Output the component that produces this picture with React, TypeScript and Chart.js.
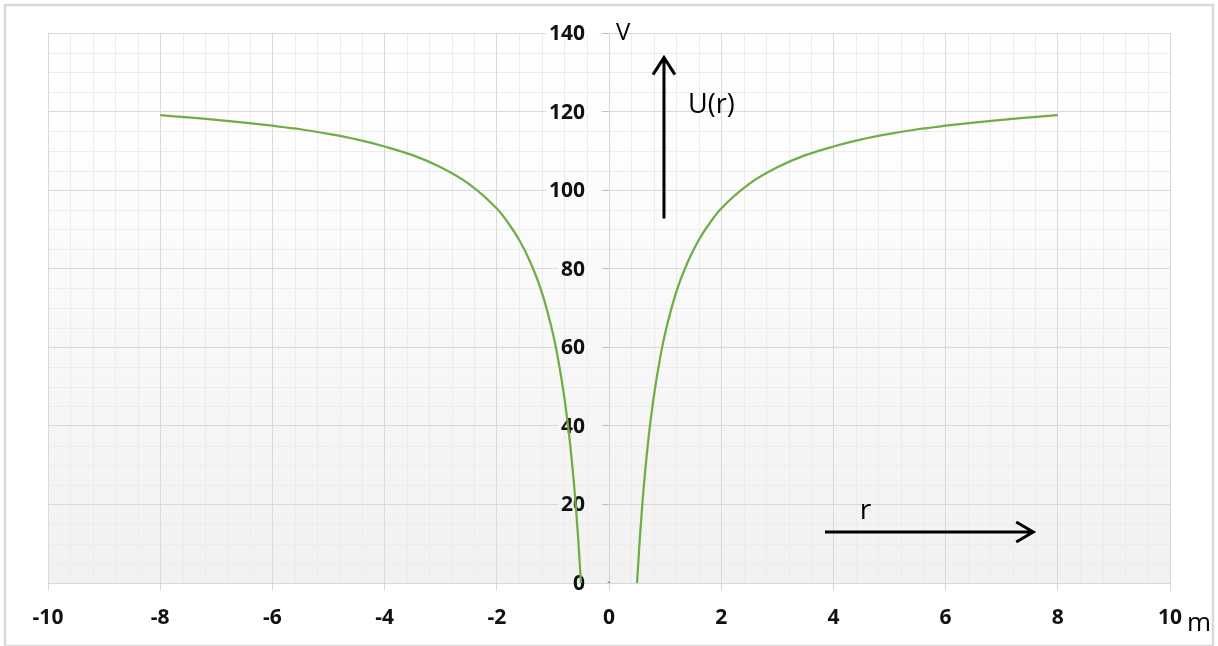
import React, { useEffect, useRef } from "react";
import { Chart, registerables } from "chart.js";

Chart.register(...registerables);

// Potential curve U(r), read in volts at distance r (metres)
const leftR = [-8, -7.5, -7, -6.5, -6, -5.5, -5, -4.5, -4, -3.5, -3, -2.5, -2, -1.8, -1.6, -1.4, -1.2, -1.0, -0.9, -0.8, -0.7, -0.6, -0.55, -0.5];
const leftU = [119.1, 118.5, 117.9, 117.2, 116.4, 115.5, 114.3, 112.9, 111.1, 108.9, 105.8, 101.6, 95.3, 91.7, 87.3, 81.6, 74.1, 63.5, 56.4, 47.6, 36.3, 21.2, 11.5, 0];
const rightR = [0.5, 0.55, 0.6, 0.7, 0.8, 0.9, 1.0, 1.2, 1.4, 1.6, 1.8, 2, 2.5, 3, 3.5, 4, 4.5, 5, 5.5, 6, 6.5, 7, 7.5, 8];
const rightU = [0, 11.5, 21.2, 36.3, 47.6, 56.4, 63.5, 74.1, 81.6, 87.3, 91.7, 95.3, 101.6, 105.8, 108.9, 111.1, 112.9, 114.3, 115.5, 116.4, 117.2, 117.9, 118.5, 119.1];
const originR = [0];
const originU = [0];

// Axis ranges and tick steps
const xRange = [-10, 10];
const yRange = [0, 140];
const xMajorStep = 2;
const xMinorStep = 0.4;
const yMajorStep = 20;
const yMinorStep = 5;

// Annotation texts
const yUnit = "V";
const xUnit = "m";
const curveName = "U(r)";
const distName = "r";

const GREEN = "#70ad47";
const FONT = "'Open Sans', 'Liberation Sans', sans-serif";
const TICK_FONT = `bold 21px ${FONT}`;

const toPoints = (xs: number[], ys: number[]) => xs.map((x, i) => ({ x, y: ys[i] }));

// plot background shade at a fraction t (0 = top, 1 = bottom)
const shadeAt = (t: number) => {
  const v = t < 0.25 ? 255 - (t / 0.25) * 2 : 253 - ((t - 0.25) / 0.75) * 12;
  const c = Math.round(v);
  return `rgb(${c},${c},${c})`;
};

const decorPlugin = {
  id: "decor",
  beforeDraw(chart: any) {
    const { ctx, chartArea: a, scales } = chart;
    const xs = scales.x;
    const ys = scales.y;
    ctx.save();
    // plot background gradient
    const g = ctx.createLinearGradient(0, a.top, 0, a.bottom);
    g.addColorStop(0, shadeAt(0));
    g.addColorStop(0.25, shadeAt(0.25));
    g.addColorStop(1, shadeAt(1));
    ctx.fillStyle = g;
    ctx.fillRect(a.left, a.top, a.right - a.left, a.bottom - a.top);
    // minor grid
    ctx.strokeStyle = "#ececec";
    ctx.lineWidth = 1;
    ctx.beginPath();
    const nx = Math.round((xRange[1] - xRange[0]) / xMinorStep);
    for (let i = 1; i < nx; i++) {
      const v = xRange[0] + i * xMinorStep;
      if (Math.abs(v / xMajorStep - Math.round(v / xMajorStep)) < 1e-6) continue;
      const px = Math.round(xs.getPixelForValue(v)) + 0.5;
      ctx.moveTo(px, a.top);
      ctx.lineTo(px, a.bottom);
    }
    const ny = Math.round((yRange[1] - yRange[0]) / yMinorStep);
    for (let i = 1; i < ny; i++) {
      const v = yRange[0] + i * yMinorStep;
      if (v % yMajorStep === 0) continue;
      const py = Math.round(ys.getPixelForValue(v)) + 0.5;
      ctx.moveTo(a.left, py);
      ctx.lineTo(a.right, py);
    }
    ctx.stroke();
    ctx.restore();
  },
  beforeDatasetsDraw(chart: any) {
    // value labels of the vertical axis, set left of the axis line at r = 0
    const { ctx, chartArea: a, scales } = chart;
    const xs = scales.x;
    const ys = scales.y;
    const x0 = xs.getPixelForValue(0);
    ctx.save();
    ctx.font = TICK_FONT;
    ctx.textAlign = "right";
    ctx.textBaseline = "middle";
    ys.ticks.forEach((t: any) => {
      const py = ys.getPixelForValue(t.value);
      const label = String(t.value);
      const w = ctx.measureText(label).width;
      const right = x0 - 24;
      if (t.value > yRange[0]) {
        ctx.fillStyle = shadeAt((py - a.top) / (a.bottom - a.top));
        ctx.fillRect(right - w - 3, py - 1.5, w + 3 + 17, 3);
      }
      ctx.fillStyle = "#111";
      ctx.fillText(label, right, py + 1);
    });
    ctx.restore();
  },
  afterDraw(chart: any) {
    const { ctx, chartArea: a, scales, width, height } = chart;
    const xs = scales.x;
    const ys = scales.y;
    ctx.save();
    // outer frame
    ctx.strokeStyle = "#d9d9d9";
    ctx.lineWidth = 2.5;
    ctx.strokeRect(5, 5, width - 10, height - 5);

    // arrows
    ctx.strokeStyle = "#000";
    ctx.lineWidth = 3;
    ctx.lineCap = "butt";
    ctx.lineJoin = "miter";
    const ax = xs.getPixelForValue(0.98);
    const ay0 = ys.getPixelForValue(92.8);
    const ay1 = ys.getPixelForValue(134);
    ctx.beginPath();
    ctx.moveTo(ax, ay0);
    ctx.lineTo(ax, ay1 + 1);
    ctx.moveTo(ax - 11, ay1 + 18);
    ctx.lineTo(ax, ay1 + 1);
    ctx.lineTo(ax + 11, ay1 + 18);
    ctx.stroke();

    const by = ys.getPixelForValue(13);
    const bx0 = xs.getPixelForValue(3.85);
    const bx1 = xs.getPixelForValue(7.58);
    ctx.beginPath();
    ctx.moveTo(bx0, by);
    ctx.lineTo(bx1 - 1, by);
    ctx.moveTo(bx1 - 18, by - 10);
    ctx.lineTo(bx1 - 1, by);
    ctx.lineTo(bx1 - 18, by + 10);
    ctx.stroke();

    // texts
    ctx.fillStyle = "#000";
    ctx.textBaseline = "alphabetic";
    ctx.textAlign = "left";
    ctx.font = `24px ${FONT}`;
    ctx.fillText(yUnit, xs.getPixelForValue(0) + 7, a.top + 7);
    ctx.font = `27px ${FONT}`;
    ctx.fillText(curveName, xs.getPixelForValue(1.41), ys.getPixelForValue(119.6));
    ctx.font = `28px ${FONT}`;
    ctx.fillText(distName, xs.getPixelForValue(4.47), ys.getPixelForValue(16.3));
    ctx.font = `26px ${FONT}`;
    ctx.fillText(xUnit, a.right + 17, a.bottom + 48);
    ctx.restore();
  },
};

export default function App() {
  const ref = useRef<HTMLCanvasElement | null>(null);

  useEffect(() => {
    if (!ref.current) return;
    const chart = new Chart(ref.current, {
      type: "scatter",
      data: {
        datasets: [
          {
            data: toPoints(leftR, leftU),
            showLine: true,
            borderColor: GREEN,
            borderWidth: 2.25,
            pointRadius: 0,
            cubicInterpolationMode: "monotone",
          },
          {
            data: toPoints(rightR, rightU),
            showLine: true,
            borderColor: GREEN,
            borderWidth: 2.25,
            pointRadius: 0,
            cubicInterpolationMode: "monotone",
          },
          {
            data: toPoints(originR, originU),
            showLine: false,
            backgroundColor: GREEN,
            borderColor: GREEN,
            pointRadius: 1.3,
            pointStyle: "rect",
          },
        ],
      },
      options: {
        responsive: false,
        animation: false,
        layout: { padding: { left: 48, right: 48, top: 33, bottom: 0 } },
        plugins: {
          legend: { display: false },
          tooltip: { enabled: false },
          title: { display: false },
        },
        scales: {
          x: {
            type: "linear",
            position: "bottom",
            min: xRange[0],
            max: xRange[1],
            afterFit(scale: any) {
              scale.height = 63;
            },
            ticks: {
              stepSize: xMajorStep,
              padding: 14,
              color: "#111",
              font: { family: FONT, size: 21, weight: "bold" },
              maxRotation: 0,
              autoSkip: false,
            },
            grid: { color: "#d9d9d9", lineWidth: 1, tickLength: 8, tickColor: "#d9d9d9" },
            border: { color: "#d9d9d9", width: 1 },
          },
          y: {
            type: "linear",
            position: { x: 0 } as any,
            min: yRange[0],
            max: yRange[1],
            ticks: {
              stepSize: yMajorStep,
              display: false,
            },
            grid: { color: "#d9d9d9", lineWidth: 1, tickLength: 7, tickColor: "#bfbfbf" },
            border: { color: "#d4d4d4", width: 1 },
          },
        },
      },
      plugins: [decorPlugin],
    });
    return () => chart.destroy();
  }, []);

  return (
    <div style={{ position: "absolute", left: 0, top: 0, width: 1218, height: 646, background: "#fff" }}>
      <canvas ref={ref} width={1218} height={646} style={{ display: "block" }} />
    </div>
  );
}
